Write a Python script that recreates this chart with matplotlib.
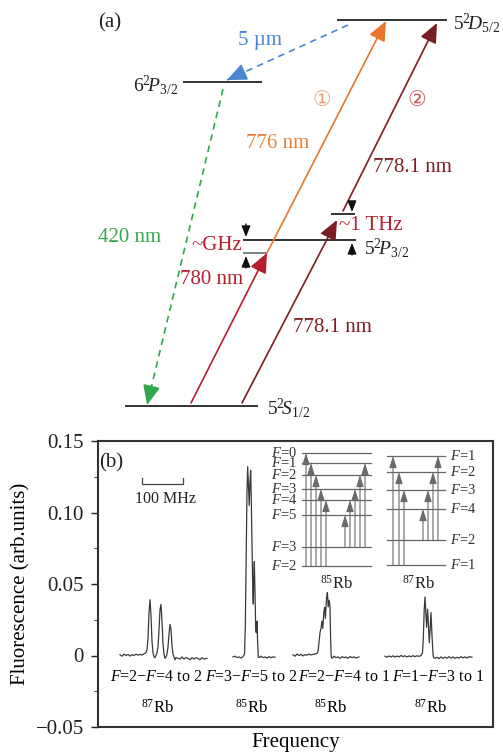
import math

import matplotlib
matplotlib.use("Agg")
import matplotlib.pyplot as plt
from matplotlib.ticker import FixedLocator, FixedFormatter, MultipleLocator

plt.rcParams["font.family"] = ["Liberation Serif", "DejaVu Sans"]
plt.rcParams["mathtext.fontset"] = "custom"
plt.rcParams["mathtext.rm"] = "Liberation Serif"
plt.rcParams["mathtext.it"] = "Liberation Serif:italic"

# ---- panel (a): energy levels, drawn in figure pixels (x0, x1, y)
levels = {
    "D52": (337, 447, 20),
    "P32_6": (183, 262, 82),
    "P32_5": (243, 356, 240),
    "virt_ghz": (243, 267, 253),
    "virt_thz": (331, 355, 214),
    "S12": (125, 258, 406),
}
level_labels = [
    ("D52", r"$5^2\!D_{5/2}$", 453, 23, "left"),
    ("P32_6", r"$6^2\!P_{3/2}$", 178, 85, "right"),
    ("P32_5", r"$5^2\!P_{3/2}$", 364, 248, "left"),
    ("S12", r"$5^2\!S_{1/2}$", 267, 408, "left"),
]
# transitions: start, end, colour, dashed
transitions = [
    ((348, 25), (227, 80), "#4a86d0", True),
    ((223, 89), (147, 405), "#2fa84a", True),
    ((191, 403), (267, 253), "#b5202e", False),
    ((267, 253), (386, 21), "#e8772e", False),
    ((242, 403), (337, 220), "#7b1d23", False),
    ((343, 211), (437, 23), "#7b1d23", False),
]
trans_labels = [
    ("5 µm", 260, 40, "#4a86d0"),
    ("420 nm", 130, 238, "#35a84e"),
    ("780 nm", 212, 280, "#b5202e"),
    ("776 nm", 278, 144, "#e8823a"),
    ("778.1 nm", 412, 167, "#7b2025"),
    ("778.1 nm", 332, 327, "#7b2025"),
    ("~GHz", 217, 246, "#b5202e"),
    ("~1 THz", 371, 226, "#b5202e"),
]
marker_arrows = [((246, 224), (246, 237)), ((246, 268), (246, 256)),
                 ((352, 202), (352, 212)), ((352, 255), (352, 243))]

# ---- panel (b): spectra (frequency in arb. units, fluorescence)
g1 = [(22, 0.0005), (24, -0.0005), (26, 0.001), (28, 0.0), (30, 0.0008), (32, -0.0004),
      (34, 0.0006), (36, 0.0), (38, 0.001), (40, 0.0002), (42, 0.0008), (44, 0.0003),
      (46, 0.0012), (48, 0.002), (49, 0.004), (50, 0.012), (51, 0.030), (52, 0.039),
      (53, 0.028), (54, 0.010), (55, 0.002), (56, -0.001), (57, -0.0015), (58, 0.0),
      (59, 0.002), (60, 0.006), (61, 0.018), (62, 0.032), (63, 0.0357), (64, 0.024),
      (65, 0.008), (66, 0.001), (67, -0.002), (68, -0.001), (69, 0.001), (70, 0.006),
      (71, 0.015), (72, 0.0218), (73, 0.018), (74, 0.007), (75, 0.001), (76, -0.001),
      (77, -0.003), (78, -0.0015), (80, -0.002), (82, -0.0025), (84, -0.001), (86, -0.0025),
      (88, -0.0015), (90, -0.002), (92, -0.003), (94, -0.0015), (96, -0.0025), (98, -0.0015),
      (100, -0.002), (102, -0.003), (104, -0.0015), (106, -0.0025), (109, -0.002)]
g2 = [(135, -0.001), (137, -0.0005), (139, -0.0015), (141, -0.001), (143, -0.0018),
      (145, -0.0008), (146.5, 0.001), (147.3, 0.02), (148.2, 0.07), (149, 0.115),
      (149.7, 0.132), (150.5, 0.118), (151.2, 0.105), (152, 0.122), (152.7, 0.1295),
      (153.5, 0.10), (154.3, 0.065), (154.8, 0.045), (155.3, 0.036), (155.8, 0.055),
      (156.3, 0.0656), (157, 0.045), (157.7, 0.018), (158.3, 0.016), (159, 0.024),
      (159.6, 0.010), (160.3, -0.001), (161, -0.0015), (163, -0.0005), (165, -0.0015),
      (167, -0.001), (169, -0.0018), (171, -0.0008), (173, -0.0015), (175, -0.001),
      (177, -0.0012)]
g3 = [(195, 0.0005), (197, -0.0005), (199, 0.001), (201, 0.0), (203, 0.0008), (205, -0.0003),
      (207, 0.0006), (209, 0.0002), (211, 0.001), (213, 0.0004), (215, 0.0008), (217, 0.001),
      (219, 0.0015), (220, 0.003), (221, 0.009), (222, 0.016), (223, 0.019), (224, 0.024),
      (224.8, 0.019), (225.8, 0.030), (226.6, 0.0336), (227.4, 0.026), (228.5, 0.040),
      (229.4, 0.044), (230.2, 0.034), (231.2, 0.0387), (232, 0.034), (232.6, 0.012),
      (233.2, -0.001), (234, -0.002), (236, -0.0005), (238, -0.0015), (240, -0.001),
      (242, -0.002), (244, -0.0008), (246, -0.0015), (248, -0.001), (250, -0.002),
      (252, -0.0007), (254, -0.0015), (256, -0.001), (258, -0.0018), (261, -0.001)]
g4 = [(287, -0.0005), (289, -0.0012), (291, -0.0003), (293, -0.001), (295, -0.0002),
      (297, -0.0012), (299, -0.0004), (301, -0.001), (303, 0.0), (305, -0.0008),
      (307, -0.0002), (309, -0.001), (311, -0.0003), (313, -0.0009), (315, -0.0001),
      (317, -0.0008), (319, -0.0002), (321, -0.0006), (323, 0.0), (324.5, 0.002),
      (325.3, 0.012), (326.2, 0.032), (327, 0.041), (327.8, 0.030), (328.6, 0.0197),
      (329.6, 0.0324), (330.4, 0.022), (331.3, 0.009), (332.1, 0.018), (333, 0.030),
      (334, 0.014), (335, 0.001), (335.6, -0.0015), (337, -0.002), (339, -0.0012),
      (341, -0.0022), (343, -0.001), (345, -0.002), (347, -0.0012), (349, -0.0018),
      (351, -0.0008), (353, -0.0018), (355, -0.001), (357, -0.002), (359, -0.0012),
      (361, -0.0018), (363, -0.0008), (365, -0.0016), (367, -0.001), (369, -0.0018),
      (371, -0.0008), (374, -0.0012)]
spectra = [g1, g2, g3, g4]
group_labels = [r"$F$=2−$F$=4 to 2", r"$F$=3−$F$=5 to 2", r"$F$=2−$F$=4 to 1", r"$F$=1−$F$=3 to 1"]
group_x = [58, 153, 246, 340]
isotopes = [r"$^{87}$Rb", r"$^{85}$Rb", r"$^{85}$Rb", r"$^{87}$Rb"]
isotope_x = [59, 153, 232, 332]
yticks = [-0.05, 0, 0.05, 0.10, 0.15]
yticklabels = ["−0.05", "0", "0.05", "0.10", "0.15"]

# inset hyperfine levels (figure pixels)
rb85_upper = {0: 453, 1: 463, 2: 475, 3: 489, 4: 500, 5: 515}
rb85_lower = {3: 547, 2: 566}
rb85_arrows = [(2, 0, 306), (2, 1, 311), (2, 2, 316), (2, 3, 321), (2, 4, 326),
               (3, 5, 345), (3, 4, 350), (3, 3, 355), (3, 2, 360), (3, 1, 365)]
rb87_upper = {1: 456, 2: 472, 3: 490, 4: 509}
rb87_lower = {2: 540, 1: 565}
rb87_arrows = [(1, 1, 393), (1, 2, 399), (1, 3, 404),
               (2, 4, 423), (2, 3, 428), (2, 2, 433), (2, 1, 438)]

fig = plt.figure(figsize=(5.03, 7.54), dpi=100)

ax = fig.add_axes([98 / 503, 27 / 754, 395 / 503, 286 / 754])
for g in spectra:
    xs, ys = zip(*g)
    ax.plot(xs, ys, color="#3a3a3a", lw=0.9)
ax.set_xlim(0, 395)
ax.set_ylim(-0.05, 0.15)
ax.yaxis.set_major_locator(FixedLocator(yticks))
ax.yaxis.set_major_formatter(FixedFormatter(yticklabels))
ax.yaxis.set_minor_locator(MultipleLocator(0.025))
ax.set_xticks([])
ax.tick_params(axis="y", which="major", length=5, width=1, labelsize=15, pad=5, colors="#222")
ax.tick_params(axis="y", which="minor", length=3, width=0.8, colors="#444")
for s in ax.spines.values():
    s.set_linewidth(1.5)
    s.set_color("#333")
ax.set_ylabel("Fluorescence (arb.units)", fontsize=15, labelpad=4)
ax.set_xlabel("Frequency", fontsize=15, labelpad=4)
for lab, x in zip(group_labels, group_x):
    ax.text(x, -0.0151, lab, ha="center", va="center", fontsize=11.5)
for lab, x in zip(isotopes, isotope_x):
    ax.text(x, -0.0367, lab, ha="center", va="center", fontsize=12)

# overlay axes in figure pixels for diagrams
ov = fig.add_axes([0, 0, 1, 1], facecolor="none")
ov.set_xlim(0, 503)
ov.set_ylim(754, 0)
ov.axis("off")

for key, (x0, x1, y) in levels.items():
    c = "#777" if key == "virt_ghz" else "#222"
    ov.plot([x0, x1], [y, y], color=c, lw=1.3, solid_capstyle="butt")
for key, txt, x, y, ha in level_labels:
    ov.text(x, y, txt, ha=ha, va="center", fontsize=14, color="#222")

head = "-|>,head_length=0.8,head_width=0.35"
for (p0, p1, c, dashed) in transitions:
    if dashed:
        # dashed shaft, solid head
        ov.plot([p0[0], p1[0]], [p0[1], p1[1]], color=c, lw=1.2, ls=(0, (4, 3)))
        L = math.hypot(p1[0] - p0[0], p1[1] - p0[1])
        back = (p1[0] - (p1[0] - p0[0]) * 12 / L, p1[1] - (p1[1] - p0[1]) * 12 / L)
        ov.annotate("", xy=p1, xytext=back,
                    arrowprops=dict(arrowstyle=head, color=c, lw=1.2, shrinkA=0, shrinkB=0,
                                    mutation_scale=15))
    else:
        ov.annotate("", xy=p1, xytext=p0,
                    arrowprops=dict(arrowstyle=head, color=c, lw=1.2, shrinkA=0, shrinkB=0,
                                    mutation_scale=15))
for txt, x, y, c in trans_labels:
    ov.text(x, y, txt, ha="center", va="center", fontsize=15, color=c)
ov.text(322, 100, "①", ha="center", va="center", fontsize=15, color="#f0a070", family="DejaVu Sans")
ov.text(417, 100, "②", ha="center", va="center", fontsize=15, color="#c85a5a", family="DejaVu Sans")
ov.text(110, 23, "(a)", ha="center", va="center", fontsize=15, color="#222")
for p0, p1 in marker_arrows:
    ov.annotate("", xy=p1, xytext=p0,
                arrowprops=dict(arrowstyle="-|>,head_length=0.55,head_width=0.22", color="#111",
                                lw=1.0, shrinkA=0, shrinkB=0, mutation_scale=12))

# panel (b) decorations
ov.text(111, 463, "(b)", ha="center", va="center", fontsize=15, color="#222")
ov.plot([142, 142, 183, 183], [478, 484, 484, 478], color="#444", lw=0.9)
ov.text(166, 499, "100 MHz", ha="center", va="center", fontsize=11.5, color="#222")


def hyperfine(upper, lower, arrows, x0, x1, label_x, ha):
    for F, y in list(upper.items()) + list(lower.items()):
        ov.plot([x0, x1], [y, y], color="#666", lw=0.9)
        ov.text(label_x, y, r"$F$=%d" % F, ha=ha, va="center", fontsize=10.5, color="#333")
    for lo, up, x in arrows:
        ov.annotate("", xy=(x, upper[up]), xytext=(x, lower[lo]),
                    arrowprops=dict(arrowstyle="-|>,head_length=0.7,head_width=0.22",
                                    color="#6a6a6a", lw=0.8, shrinkA=0, shrinkB=0,
                                    mutation_scale=10))


hyperfine(rb85_upper, rb85_lower, rb85_arrows, 302, 371, 297, "right")
hyperfine(rb87_upper, rb87_lower, rb87_arrows, 387, 445, 450, "left")
ov.text(336, 584, r"$^{85}$Rb", ha="center", va="center", fontsize=12, color="#222")
ov.text(418, 584, r"$^{87}$Rb", ha="center", va="center", fontsize=12, color="#222")

fig.savefig("out.png", dpi=100)
